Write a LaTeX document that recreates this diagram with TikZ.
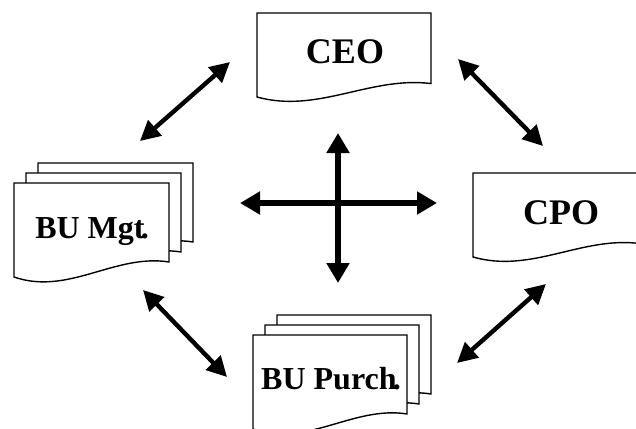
\documentclass[tikz,border=0pt]{standalone}
\usepackage{fontspec}
\setmainfont{Liberation Serif}
\usetikzlibrary{arrows.meta}

% page outline with a wavy lower edge; #1 left, #2 top, #3 width, #4 height
\newcommand\docshape[4]{%
  \filldraw[docline] (#1,#2) -- ({#1+#3},#2) -- ({#1+#3},{#2+0.84*#4})
    .. controls ({#1+0.65*#3},{#2+0.75*#4}) and ({#1+0.35*#3},{#2+1.2*#4}) .. (#1,{#2+#4}) -- cycle;}
% three stacked pages, back to front
\newcommand\docstack[4]{%
  \docshape{#1+24}{#2-20}{#3}{#4}
  \docshape{#1+12}{#2-10}{#3}{#4}
  \docshape{#1}{#2}{#3}{#4}}

\tikzset{
  docline/.style={draw=black, fill=white, line width=0.7pt},
  bigtitle/.style={font=\fontsize{18}{20}\selectfont\bfseries, anchor=base, inner sep=0pt},
  smalltitle/.style={font=\fontsize{16}{18}\selectfont\bfseries, anchor=base, inner sep=0pt},
  linkarrow/.style={line width=2.2pt, {Triangle[length=10pt,width=10pt]}-{Triangle[length=10pt,width=10pt]}},
  crossarrow/.style={line width=3pt, {Triangle[length=10pt,width=11pt]}-{Triangle[length=10pt,width=11pt]}}
}

\begin{document}
\begin{tikzpicture}[x=0.5pt, y=-0.5pt]
  \useasboundingbox (0,0) rectangle (636,428);
  \clip (0,0) rectangle (636,428);

  % pages
  \docshape{257}{13}{174}{84}
  \docshape{473}{173}{167}{84}
  \docstack{14}{183}{155}{94}
  \docstack{253}{335}{154}{94}

  % labels
  \node[bigtitle]   (ceo)     at (345,63)  {CEO};
  \node[bigtitle]   (cpo)     at (561,224) {CPO};
  \node[smalltitle] (bumgt)   at (92,238)  {BU Mgt\kern-0.12em.};
  \node[smalltitle] (bupurch) at (331,389) {BU Purch\kern-0.12em.};

  % arrow end points
  \coordinate (ceoL)  at (230,62);
  \coordinate (mgtT)  at (140,141);
  \coordinate (ceoR)  at (458,59);
  \coordinate (cpoT)  at (543,146);
  \coordinate (mgtB)  at (143,290);
  \coordinate (purL)  at (227,377);
  \coordinate (cpoB)  at (546,284);
  \coordinate (purR)  at (457,363);
  \coordinate (hubL)  at (240,203);
  \coordinate (hubR)  at (437,203);
  \coordinate (hubT)  at (338,133);
  \coordinate (hubB)  at (338,283);

  % links
  \draw[linkarrow] (mgtT) -- (ceoL);
  \draw[linkarrow] (ceoR) -- (cpoT);
  \draw[linkarrow] (mgtB) -- (purL);
  \draw[linkarrow] (purR) -- (cpoB);
  \draw[crossarrow] (hubL) -- (hubR);
  \draw[crossarrow] (hubT) -- (hubB);
\end{tikzpicture}
\end{document}
